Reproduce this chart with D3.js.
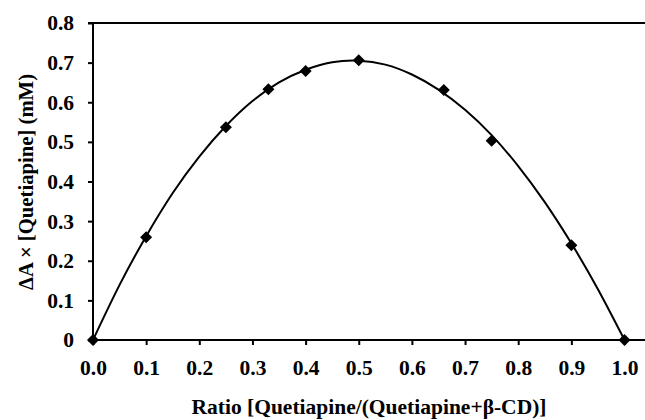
<!DOCTYPE html>
<html>
<head>
<meta charset="utf-8">
<script src="https://cdn.jsdelivr.net/npm/d3@7"></script>
<style>
  body { margin: 0; background: #fff; }
  svg { display: block; }
</style>
</head>
<body>
<script>
// measured points
const ratio = [0, 0.1, 0.25, 0.33, 0.4, 0.5, 0.66, 0.75, 0.9, 1.0]
const deltaA = [0, 0.259, 0.537, 0.633, 0.679, 0.706, 0.631, 0.503, 0.239, 0]

// trendline
const fitX = [0, 0.05, 0.1, 0.15, 0.2, 0.25, 0.3, 0.35, 0.4, 0.45, 0.5, 0.55, 0.6, 0.65, 0.7, 0.75, 0.8, 0.85, 0.9, 0.95, 1.0]
const fitY = [0, 0.139, 0.262, 0.371, 0.463, 0.54, 0.603, 0.65, 0.682, 0.701, 0.705, 0.695, 0.67, 0.632, 0.581, 0.517, 0.439, 0.348, 0.244, 0.128, 0]

const xTicks = [0, 0.1, 0.2, 0.3, 0.4, 0.5, 0.6, 0.7, 0.8, 0.9, 1.0]
const yTicks = [0, 0.1, 0.2, 0.3, 0.4, 0.5, 0.6, 0.7, 0.8]

const width = 645, height = 420
const font = "Liberation Serif"

const x = d3.scaleLinear().domain([0, 1]).range([93, 624.5])
const y = d3.scaleLinear().domain([0, 0.8]).range([340, 23])

const svg = d3.select("body").append("svg")
    .attr("width", width)
    .attr("height", height)
    .attr("font-family", font)
    .attr("font-weight", "bold")

// top border line at 0.8
svg.append("line")
    .attr("x1", x(0) - 5).attr("x2", width)
    .attr("y1", y(0.8)).attr("y2", y(0.8))
    .attr("stroke", "#000").attr("stroke-width", 2)

const xAxis = svg.append("g")
    .attr("transform", `translate(0,${y(0)})`)
    .call(d3.axisBottom(x).tickValues(xTicks).tickFormat(d3.format(".1f")).tickSize(5).tickPadding(15))
xAxis.attr("font-family", font).attr("font-size", 21.5)
xAxis.select(".domain").attr("d", `M${x(0)},0H${width}`).attr("stroke-width", 2)
xAxis.selectAll(".tick line").attr("stroke-width", 2)

const yAxis = svg.append("g")
    .attr("transform", `translate(${x(0)},0)`)
    .call(d3.axisLeft(y).tickValues(yTicks).tickFormat(d => d === 0 ? "0" : d3.format(".1f")(d)).tickSize(5).tickPadding(14))
yAxis.attr("font-family", font).attr("font-size", 21.5)
yAxis.select(".domain").attr("d", `M0,${y(0.8)}V${y(0)}`).attr("stroke-width", 2)
yAxis.selectAll(".tick line").attr("stroke-width", 2)

// trendline
const fit = fitX.map((v, i) => [v, fitY[i]])
svg.append("path")
    .datum(fit)
    .attr("fill", "none")
    .attr("stroke", "#000")
    .attr("stroke-width", 2)
    .attr("d", d3.line().x(d => x(d[0])).y(d => y(d[1])).curve(d3.curveNatural))

// diamonds
const pts = ratio.map((v, i) => [v, deltaA[i]])
svg.append("g")
  .selectAll("path")
  .data(pts)
  .join("path")
    .attr("transform", d => `translate(${x(d[0])},${y(d[1])}) rotate(45)`)
    .attr("d", d3.symbol(d3.symbolSquare, 72))
    .attr("fill", "#000")

svg.append("text")
    .attr("x", 369)
    .attr("y", 414)
    .attr("text-anchor", "middle")
    .attr("font-size", 21.5)
    .text("Ratio [Quetiapine/(Quetiapine+β-CD)]")

svg.append("text")
    .attr("transform", "translate(33,182) rotate(-90)")
    .attr("text-anchor", "middle")
    .attr("font-size", 20.7)
    .text("ΔA × [Quetiapine] (mM)")
</script>
</body>
</html>
